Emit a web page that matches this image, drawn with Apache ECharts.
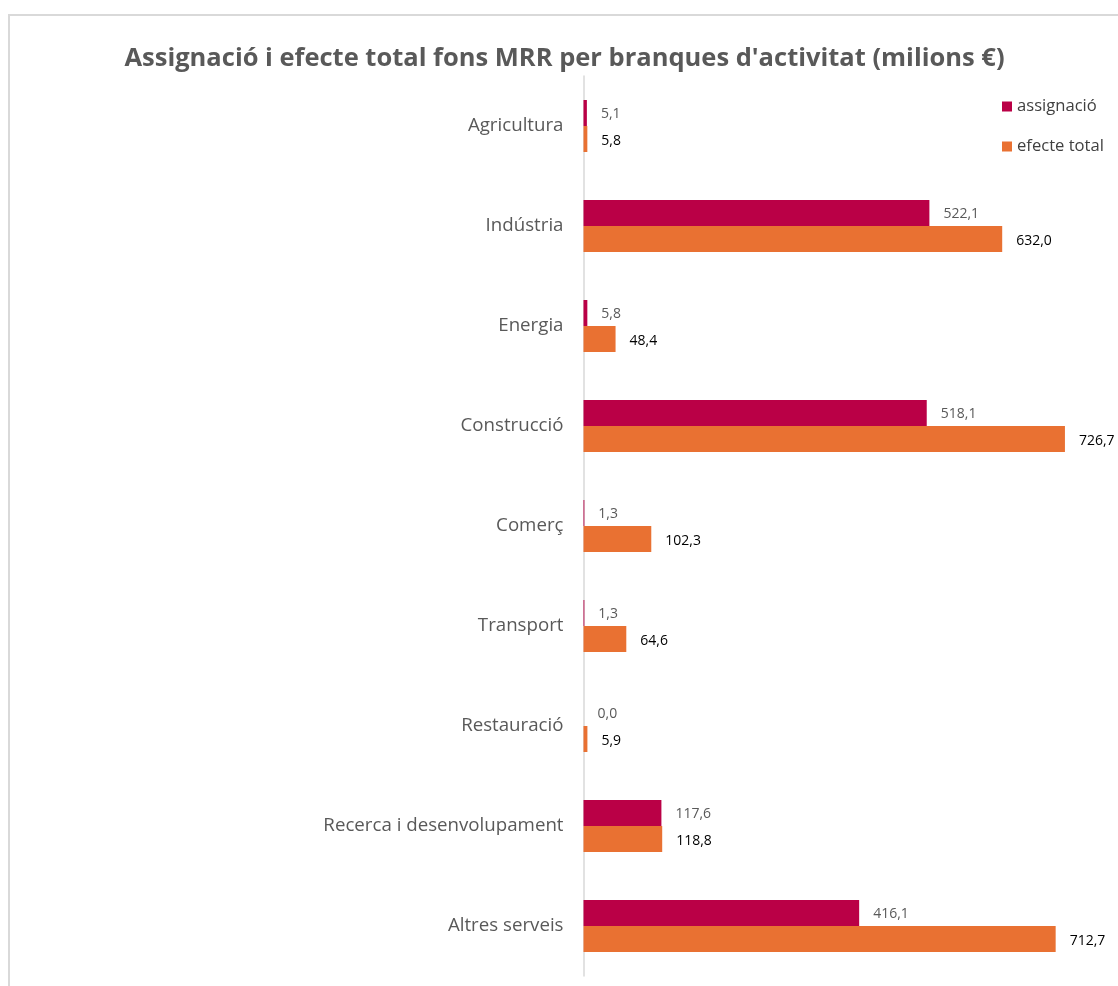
<!DOCTYPE html>
<html>
<head>
<meta charset="utf-8">
<script src="https://cdn.jsdelivr.net/npm/echarts@6/dist/echarts.min.js"></script>
<style>
html,body{margin:0;padding:0;background:#fff;}
#chart{width:1118px;height:986px;}
</style>
</head>
<body>
<div id="chart"></div>
<script>
var categories = ['Agricultura','Indústria','Energia','Construcció','Comerç','Transport','Restauració','Recerca i desenvolupament','Altres serveis'];
var assignacio = [5.1, 522.1, 5.8, 518.1, 1.3, 1.3, 0.0, 117.6, 416.1];
var efecteTotal = [5.8, 632.0, 48.4, 726.7, 102.3, 64.6, 5.9, 118.8, 712.7];
var seriesNames = ['assignació', 'efecte total'];

function fmt(p){ return p.value.toFixed(1).replace('.', ','); }

var chart = echarts.init(document.getElementById('chart'));
var FONT = '"Open Sans", "Noto Sans", sans-serif';
chart.setOption({
  animation: false,
  backgroundColor: '#fff',
  textStyle: { fontFamily: FONT },
  title: {
    text: 'Assignació i efecte total fons MRR per branques d\'activitat (milions €)',
    left: 559.5, top: 41, textAlign: 'center',
    textStyle: { fontFamily: FONT, fontSize: 25.5, fontWeight: 'bold', color: '#595959' }
  },
  legend: {
    orient: 'vertical', left: 1002, top: 98, padding: 0,
    itemWidth: 10, itemHeight: 10, itemGap: 23, icon: 'rect',
    textStyle: { fontFamily: FONT, fontSize: 16.6, lineHeight: 17, color: '#404040' },
    data: seriesNames
  },
  graphic: [{
    type: 'rect', silent: true, z: -1,
    shape: { x: 9, y: 15, width: 1300, height: 1200 },
    style: { fill: 'none', stroke: '#d9d9d9', lineWidth: 2 }
  }],
  grid: { left: 583.5, right: 4.5, top: 76, bottom: 10, containLabel: false },
  xAxis: {
    type: 'value', min: 0, max: 800, show: false, splitLine: { show: false }
  },
  yAxis: {
    type: 'category', inverse: true, data: categories,
    axisLine: { lineStyle: { color: '#d9d9d9', width: 1.5 } },
    axisTick: { show: false },
    axisLabel: { fontFamily: FONT, fontSize: 18.7, color: '#595959', margin: 20 }
  },
  series: [{
    name: seriesNames[0], type: 'bar', data: assignacio,
    barWidth: 26, barGap: '0%',
    itemStyle: { color: '#BA0046' },
    label: { show: true, position: 'right', distance: 14, formatter: fmt,
      fontFamily: FONT, fontSize: 14, color: '#595959', offset: [0, 1] }
  }, {
    name: seriesNames[1], type: 'bar', data: efecteTotal,
    barWidth: 26, barGap: '0%',
    itemStyle: { color: '#E97132' },
    label: { show: true, position: 'right', distance: 14, formatter: fmt,
      fontFamily: FONT, fontSize: 14, color: '#000', offset: [0, 2] }
  }]
});
</script>
</body>
</html>
